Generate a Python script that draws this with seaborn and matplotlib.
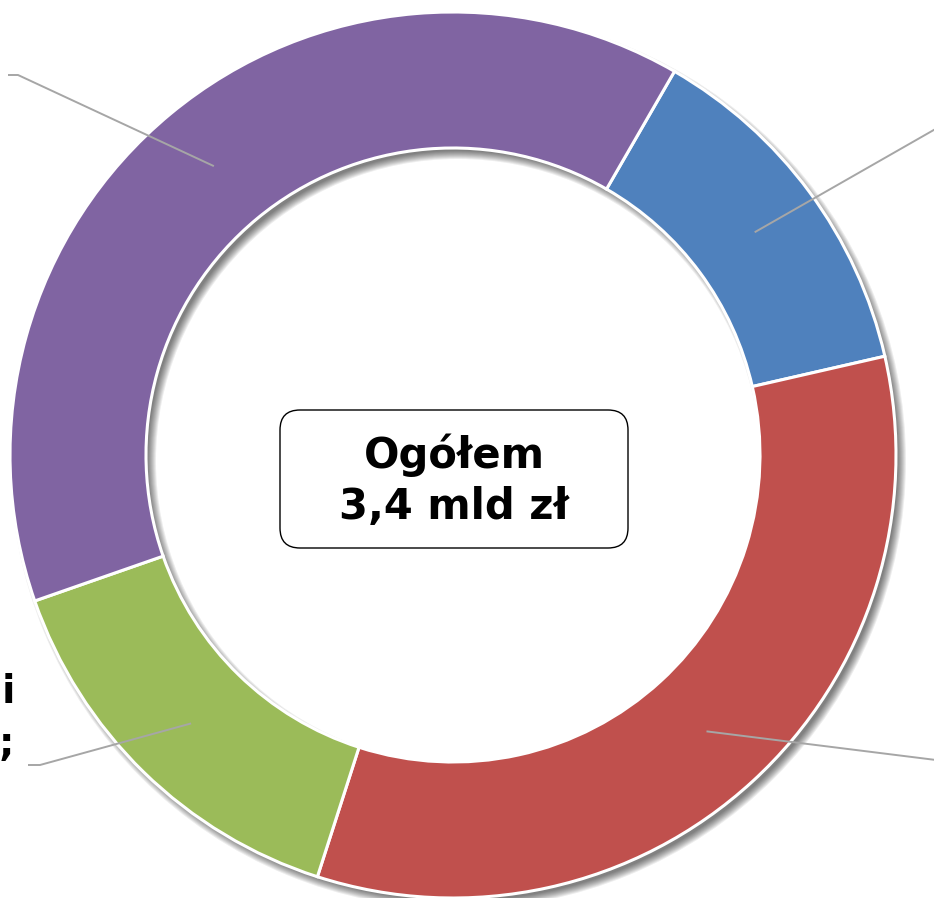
import numpy as np
import matplotlib.pyplot as plt
import seaborn as sns
from matplotlib.patches import Wedge, FancyBboxPatch

# Donut chart: split of the 3.4 bn zł total into four parts (values in bn zł).
categories = ['Infrastruktura', 'Przedsiębiorczość', 'Rolnictwo, rybactwo i\nobszary „wiejskie”;', 'Kapitał ludzki']
values_mld = [0.445, 1.14, 0.50, 1.315]
colors = ['#4F81BD', '#C0504D', '#9BBB59', '#8064A2']
total_lines = ['Ogółem', '3,4 mld zł']

sns.set_theme(style='white')
plt.rcParams['font.family'] = ['DejaVu Sans']

W, H = 934, 898
fig = plt.figure(figsize=(W / 100, H / 100), dpi=100)
ax = fig.add_axes([0, 0, 1, 1])

# everything in pixel units, y pointing up
cx, cy = 453, H - 455
R, ring = 443, 136

# soft drop shadow of the ring, shifted down-right
for k in range(9):
    s = 5 - k
    ax.add_patch(Wedge((cx + 5, cy - 6), R + s, 0, 360, width=ring + 2 * s,
                       facecolor='black', edgecolor='none', alpha=0.07, zorder=0))

wedges, _ = ax.pie(values_mld, colors=colors, startangle=60, counterclock=False,
                   radius=R, center=(cx, cy),
                   wedgeprops=dict(width=ring, edgecolor='white', linewidth=2.2))
for w in wedges:
    w.set_zorder(2)

# leader lines from the middle of each segment towards its label
elbows = [
    [(960, H - 115)],
    [(960, H - 763)],
    [(40, H - 765), (28, H - 765)],
    [(18, H - 75), (8, H - 75)],
]
r_mid = R - ring / 2
for w, pts in zip(wedges, elbows):
    mid = np.deg2rad((w.theta1 + w.theta2) / 2)
    xs = [cx + r_mid * np.cos(mid)] + [p[0] for p in pts]
    ys = [cy + r_mid * np.sin(mid)] + [p[1] for p in pts]
    ax.plot(xs, ys, color='#A6A6A6', lw=1.4, zorder=3, solid_capstyle='butt')

# label of the green segment (only its right end is inside the picture)
for line, base in zip(categories[2].split('\n'), [703, 755]):
    ax.text(15, H - base, line, ha='right', va='baseline', fontsize=28,
            fontweight='bold', color='black', zorder=4)

# centre box with the total
ax.add_patch(FancyBboxPatch((280, H - 548), 348, 138,
                            boxstyle='round,pad=0,rounding_size=20',
                            facecolor='white', edgecolor='black', lw=1.0, zorder=4))
for line, base in zip(total_lines, [468, 519]):
    ax.text(454, H - base, line, ha='center', va='baseline', fontsize=30,
            fontweight='bold', color='black', zorder=5)

ax.set_xlim(0, W)
ax.set_ylim(0, H)
ax.set_aspect('auto')
ax.axis('off')

fig.savefig('out.png', dpi=100, facecolor='white')
